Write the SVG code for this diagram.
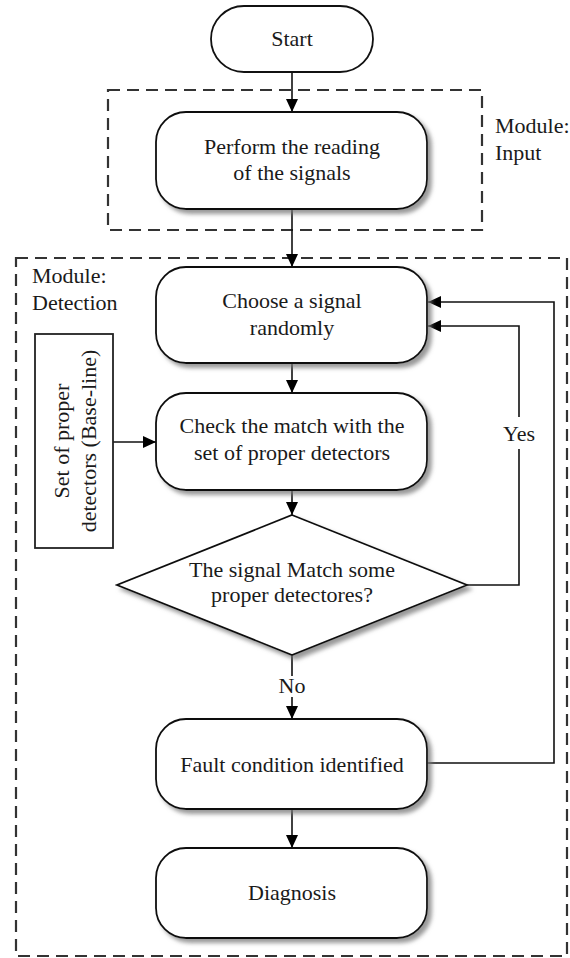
<svg xmlns="http://www.w3.org/2000/svg" width="570" height="958" viewBox="0 0 570 958">
<style>
  .t { font-family: "Liberation Serif", "Times New Roman", serif; font-size: 22px; fill: #1a1a1a; }
  .c { text-anchor: middle; }
  .box { fill: #ffffff; stroke: #111; stroke-width: 1.8; }
  .dash { fill: none; stroke: #333; stroke-width: 2.2; stroke-dasharray: 12 7; }
  .ln { fill: none; stroke: #111; stroke-width: 1.6; }
</style>
<defs>
  <filter id="sh" x="-10%" y="-10%" width="130%" height="130%">
    <feDropShadow dx="4" dy="4" stdDeviation="2" flood-color="#777" flood-opacity="0.75"/>
  </filter>
  <marker id="ah" viewBox="0 0 13 12" refX="13" refY="6" markerWidth="13" markerHeight="12" markerUnits="userSpaceOnUse" orient="auto">
    <path d="M0,0 L13,6 L0,12 Z" fill="#000"/>
  </marker>
</defs>
<rect width="570" height="958" fill="#ffffff"/>

<g id="module-input">
  <rect class="dash" x="108" y="90" width="374" height="140"/>
  <text class="t" x="495" y="133">Module:</text>
  <text class="t" x="495" y="160">Input</text>
</g>
<g id="module-detection">
  <rect class="dash" x="16" y="258" width="551" height="698"/>
  <text class="t" x="32" y="283">Module:</text>
  <text class="t" x="32" y="310">Detection</text>
</g>

<g id="connectors">
  <path class="ln" d="M292,72 V112" marker-end="url(#ah)"/>
  <path class="ln" d="M292,209 V267" marker-end="url(#ah)"/>
  <path class="ln" d="M292,363 V393" marker-end="url(#ah)"/>
  <path class="ln" d="M292,490 V515" marker-end="url(#ah)"/>
  <path class="ln" d="M113,442 H156" marker-end="url(#ah)"/>
  <path class="ln" d="M467,585 H519 V449 M519,417 V326 H428" marker-end="url(#ah)"/>
  <text class="t c" x="519" y="441">Yes</text>
  <path class="ln" d="M292,655 V676 M292,697 V719" marker-end="url(#ah)"/>
  <text class="t c" x="292" y="693">No</text>
  <path class="ln" d="M427,763 H554 V302 H428" marker-end="url(#ah)"/>
  <path class="ln" d="M292,809 V848" marker-end="url(#ah)"/>
</g>

<g id="start">
  <rect class="box" x="211" y="6" width="162" height="66" rx="33"/>
  <text class="t c" x="292" y="46">Start</text>
</g>
<g id="read-signals">
  <rect class="box" filter="url(#sh)" x="156" y="112" width="271" height="97" rx="30"/>
  <text class="t c" x="292" y="154">Perform the reading</text>
  <text class="t c" x="292" y="180">of the signals</text>
</g>
<g id="choose-signal">
  <rect class="box" filter="url(#sh)" x="156" y="267" width="271" height="96" rx="30"/>
  <text class="t c" x="292" y="308">Choose a signal</text>
  <text class="t c" x="292" y="335">randomly</text>
</g>
<g id="detectors-set">
  <rect x="35" y="334" width="78" height="214" fill="#fff" stroke="#222" stroke-width="1.8"/>
  <text class="t c" transform="translate(69,441) rotate(-90)">Set of proper</text>
  <text class="t c" transform="translate(96,441) rotate(-90)">detectors (Base-line)</text>
</g>
<g id="check-match">
  <rect class="box" filter="url(#sh)" x="156" y="393" width="271" height="97" rx="30"/>
  <text class="t c" x="292" y="433">Check the match with the</text>
  <text class="t c" x="292" y="460">set of proper detectors</text>
</g>
<g id="decision">
  <polygon class="box" filter="url(#sh)" points="292,515 467,585 292,655 117,585"/>
  <text class="t c" x="292" y="577">The signal Match some</text>
  <text class="t c" x="292" y="602">proper detectores?</text>
</g>
<g id="fault">
  <rect class="box" filter="url(#sh)" x="156" y="719" width="271" height="90" rx="30"/>
  <text class="t c" x="292" y="772">Fault condition identified</text>
</g>
<g id="diagnosis">
  <rect class="box" filter="url(#sh)" x="156" y="848" width="271" height="90" rx="30"/>
  <text class="t c" x="292" y="900">Diagnosis</text>
</g>
</svg>
